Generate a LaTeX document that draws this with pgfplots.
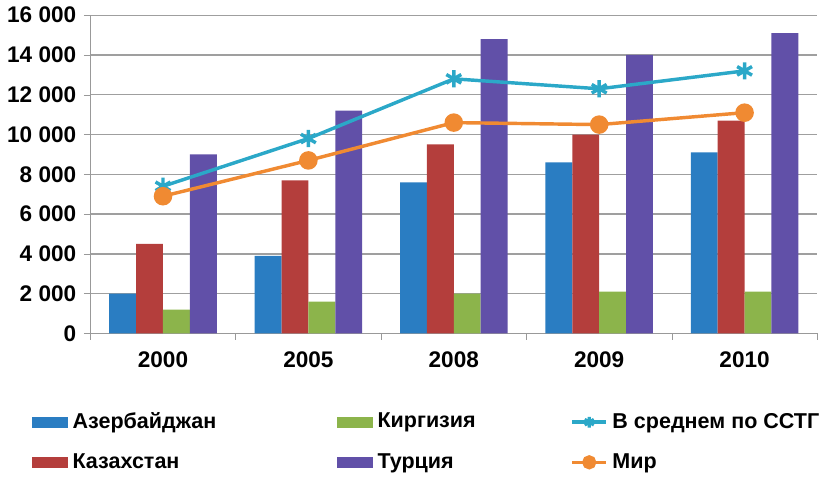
\documentclass[border=0pt]{standalone}
\usepackage{fontspec}
\setmainfont{Liberation Sans}
\usepackage{pgfplots}
\pgfplotsset{compat=1.18}

\definecolor{cAz}{HTML}{2A7DC2}
\definecolor{cKaz}{HTML}{B43E3C}
\definecolor{cKir}{HTML}{8CB44B}
\definecolor{cTur}{HTML}{6150A8}
\definecolor{cSst}{HTML}{2BA8C8}
\definecolor{cMir}{HTML}{F08A32}

\pgfplotsset{
  barleg/.style={legend image code/.code={\fill[##1] (0pt,-2.5pt) rectangle (17pt,2.5pt);}},
  lineleg/.style={legend image code/.code={\draw[##1, mark size=2.5pt] (0pt,0pt) -- (8pt,0pt) plot coordinates {(8pt,0pt)} -- (16pt,0pt);}}
}

\begin{document}
\begin{tikzpicture}
\begin{axis}[
  scale only axis, width=338pt, height=148pt,
  ybar=0pt, bar width=12.5pt,
  xmin=-0.5, xmax=4.5, ymin=0, ymax=16000,
  xtick={-0.5,0.5,1.5,2.5,3.5,4.5}, xticklabels={},
  extra x ticks={0,1,2,3,4},
  extra x tick labels={2000,2005,2008,2009,2010},
  extra x tick style={major tick length=0pt},
  ytick={0,2000,...,16000},
  scaled y ticks=false,
  yticklabel style={/pgf/number format/fixed, /pgf/number format/precision=0},
  ymajorgrids, grid style={gray!75, line width=0.6pt},
  axis x line*=bottom, axis y line*=left,
  axis line style={gray!80, line width=0.6pt},
  tick style={gray!80}, tick align=outside, major tick length=3pt,
  tick label style={font=\bfseries\fontsize{10.5}{12}\selectfont},
  xticklabel style={yshift=-5pt},
  /pgf/number format/assume math mode=true,
  /pgf/number format/1000 sep={\ },
  legend style={at={(-0.09,-0.22)}, anchor=north west, draw=none,
    font=\bfseries\fontsize{10}{12}\selectfont,
    /tikz/column 2/.style={column sep=54pt},
    /tikz/column 4/.style={column sep=42pt},
    row sep=6pt},
  legend columns=2, transpose legend,
  legend cell align=left,
]
\addplot[fill=cAz, draw=none, barleg] coordinates {(0,2000) (1,3900) (2,7600) (3,8600) (4,9100)};
\addlegendentry{Азербайджан}
\addplot[fill=cKaz, draw=none, barleg] coordinates {(0,4500) (1,7700) (2,9500) (3,10000) (4,10700)};
\addlegendentry{Казахстан}
\addplot[fill=cKir, draw=none, barleg] coordinates {(0,1200) (1,1600) (2,2000) (3,2100) (4,2100)};
\addlegendentry{Киргизия}
\addplot[fill=cTur, draw=none, barleg] coordinates {(0,9000) (1,11200) (2,14800) (3,14000) (4,15100)};
\addlegendentry{Турция}
\addplot[sharp plot, cSst, line width=1.6pt, mark=asterisk, mark size=4pt, lineleg] coordinates {(0,7400) (1,9800) (2,12800) (3,12300) (4,13200)};
\addlegendentry{В среднем по ССТГ}
\addplot[sharp plot, cMir, line width=1.6pt, mark=*, mark size=3.5pt, lineleg] coordinates {(0,6900) (1,8700) (2,10600) (3,10500) (4,11100)};
\addlegendentry{Мир}
\end{axis}
\end{tikzpicture}
\end{document}
